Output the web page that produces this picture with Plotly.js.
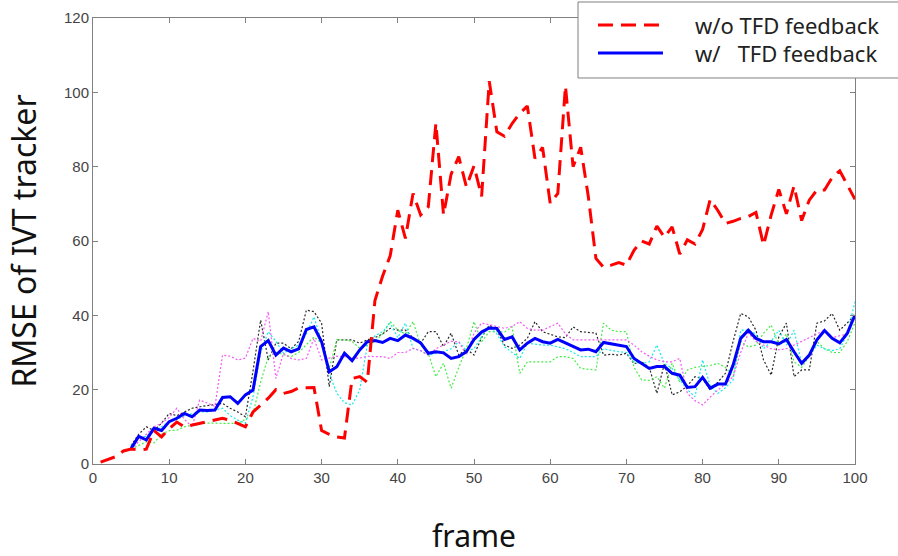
<!DOCTYPE html>
<html>
<head>
<meta charset="utf-8">
<script src="https://cdn.plot.ly/plotly-3.0.1.min.js"></script>
<style>html,body{margin:0;padding:0;background:#fff;}#chart{width:898px;height:556px;}</style>
</head>
<body>
<div id="chart"></div>
<script>
// frame numbers
const framesAll = [1,2,3,4,5,6,7,8,9,10,11,12,13,14,15,16,17,18,19,20,21,22,23,24,25,26,27,28,29,30,31,32,33,34,35,36,37,38,39,40,41,42,43,44,45,46,47,48,49,50,51,52,53,54,55,56,57,58,59,60,61,62,63,64,65,66,67,68,69,70,71,72,73,74,75,76,77,78,79,80,81,82,83,84,85,86,87,88,89,90,91,92,93,94,95,96,97,98,99,100];
const framesSub = [5,6,7,8,9,10,11,12,13,14,15,16,17,18,19,20,21,22,23,24,25,26,27,28,29,30,31,32,33,34,35,36,37,38,39,40,41,42,43,44,45,46,47,48,49,50,51,52,53,54,55,56,57,58,59,60,61,62,63,64,65,66,67,68,69,70,71,72,73,74,75,76,77,78,79,80,81,82,83,84,85,86,87,88,89,90,91,92,93,94,95,96,97,98,99,100];

// w/o TFD feedback (frames 1..100)
const rmseWithout = [
  0.5,1.2,2,3.5,4,3.8,4,9,7.3,9.5,
  11.3,10,10.5,11,11.4,11.8,12.3,11.8,11,10,
  14,15.9,17.7,20,19,19.5,20.5,20.5,20.6,9,
  8,7.3,7,23,23.5,22,44,50.5,56,68.3,
  60.7,72.8,67,69.2,91.7,67,78,82.7,74.6,80.2,
  72,103,89.4,88.2,91.6,94.3,96.3,82.2,85.2,70.1,
  72.8,101.7,80,85.2,72,55.3,52.9,53.5,54.2,53.5,
  57.5,60,59.2,64,61,63.8,56.5,60.3,59.2,63.1,
  71.2,68.2,64.7,65.3,66.1,66.6,67.7,58.9,67,73.9,
  67.3,74.8,65.5,71,73.7,73.7,77.1,78.9,75,71.2
];

// w/ TFD feedback (frames 5..100)
const rmseWith = [
  4.2,7.4,6.5,9.6,9,11.4,12.3,13.6,12.7,14.5,
  14.4,14.5,17.9,18.1,16.3,18.6,19.9,31.6,33.2,29.3,
  31.2,30.2,31,36.2,36.9,32.9,24.8,26.2,29.8,27.8,
  30.7,32.9,33.2,32.7,33.8,33.2,34.7,33.8,32.6,29.8,
  30.2,29.9,28.4,28.9,30.2,33.5,35.5,36.6,36.5,33.5,
  34.2,30.7,32.5,33.8,32.9,32.5,33.5,32.5,31.6,30.7,
  30.9,30.2,32.7,32.3,32,31.6,28.4,27.1,25.7,26.2,
  26.2,24.4,23.9,20.6,20.8,23.3,20.4,21.5,21.5,26.6,
  33.8,36,33.8,32.9,32.9,32.3,33.5,30.2,27.1,29.3,
  33.4,35.9,33.8,32.6,35.2,40.1
];

// individual runs (dotted, frames 5..100)
const runBlack = [
  5,8,10,9,11,13.6,13,14,15,15.4,
  15.8,16,16.3,15,14,12.7,25,38.7,28,32.5,
  32.5,31,33,41.4,41,37.9,20.8,33.4,33.4,33.4,
  32.5,33.4,34,35,36.5,36,36,34,32.5,35.6,
  35.6,31.6,35.2,29.3,31,29.3,34,37.4,36,32,
  31.1,32,33.8,38.3,35.6,35,34.2,34,36.9,35.6,
  35.4,35.2,29.3,29.5,29.3,29.8,27,27.5,26,19,
  27.1,18.6,19.4,21,23.5,23,19.9,22,24.4,33,
  40.5,39.6,36,28,23.9,34.2,37.9,23.5,25.3,25.3,
  37.9,38.5,40.5,36,38,40
];
const runGreen = [
  4,5,6,5.7,8,9,9.1,10,10.5,10.9,
  11,11,11,11,10.9,12,13.6,22,28.9,30,
  29.5,28.9,30,32,34.2,32.5,25.7,33.4,33.4,33,
  31.1,32,33,35,38.3,36,35,38.3,32,29.8,
  23.5,27.1,20.4,26,31,38.3,32.9,35.6,35.6,35.5,
  36.9,24.4,27.5,27.5,27.5,27.5,28.9,28.9,28.4,25.7,
  25.5,25.3,37.9,36,35.6,35.6,26,22.6,22.5,23.5,
  20.4,27.1,22,25.3,26,26.2,26.5,27.1,26,23.5,
  33,31.5,32,35.2,37.4,32,35,27.5,26,29,
  33,31,30,30,33,38
];
const runCyan = [
  5,7,7.5,9,10,11.5,12,13,13.5,14,
  14,14.5,15,13,11.8,11,18.1,30,35.6,33,
  29.8,31,32,35,39.6,33,24.4,19,16.5,15.9,
  19.9,32,34.5,35.6,37.9,34,37.9,31.1,30.5,29.3,
  29.8,30.2,31,32.9,30.5,31,34.2,37,35,31.6,
  30,28.4,32.5,32.2,32,32,31.5,31,30,28.9,
  28.9,28.9,31,30.5,30.2,30,27.5,27,27.5,32,
  27,25.7,22.6,20,18.1,28,21,19,20.5,22.6,
  36,36,35,31,33,36,32,36,27,29,
  32,31,30.5,31,35,43.7
];
const runMagenta = [
  4,6,8,10,11,12.5,15,12,10,17.2,
  16.4,15.5,29.3,29,28,28.5,33.8,33,41,23,
  29.8,28.4,28,28.4,33.8,28,28.5,29,28.9,28.5,
  28.5,29,28.9,28.9,28.4,30,30,31.1,30.5,29.3,
  31,32,33,32.9,29.3,35.2,37.9,37.5,37,36.5,
  37,38.3,36.5,36,36,37,37.9,35,33.4,33.4,
  33.4,33.4,33.4,33.4,33.4,33.4,32,30.2,29,28,
  27.5,27.5,28.4,19,17,15.9,18,19.9,21.5,23.5,
  30,35.2,33,32,31,30.7,31,32,33,34,
  35,36,34,34.5,35,40
];

const xTickVals = [0,10,20,30,40,50,60,70,80,90,100];
const yTickVals = [0,20,40,60,80,100,120];
const labelWithout = 'w/o TFD feedback';
const labelWith = 'w/\u00a0\u00a0\u00a0TFD feedback';

const RED = '#ff0000', BLUE = '#0000ff';
const RED_DASH = '15px,8px';

function dotted(y, color) {
  return {x: framesSub, y: y, type: 'scatter', mode: 'lines', showlegend: false,
          hoverinfo: 'skip', line: {color: color, width: 1.2, dash: '2px,2px'}};
}

const traces = [
  dotted(runBlack, 'rgb(40,40,40)'),
  dotted(runGreen, 'rgb(70,235,70)'),
  dotted(runCyan, 'rgb(20,235,235)'),
  dotted(runMagenta, 'rgb(245,90,245)'),
  {x: framesSub, y: rmseWith, type: 'scatter', mode: 'lines', name: labelWith, showlegend: false,
   line: {color: BLUE, width: 3}},
  {x: framesAll, y: rmseWithout, type: 'scatter', mode: 'lines', name: labelWithout, showlegend: false,
   line: {color: RED, width: 3, dash: RED_DASH}}
];

const axisCommon = {
  showline: true, linecolor: '#808080', linewidth: 1, mirror: 'ticks',
  ticks: 'inside', ticklen: 5, tickcolor: '#808080', showgrid: false, zeroline: false,
  tickfont: {family: 'Liberation Sans, Arial, sans-serif', size: 15, color: '#444'}
};

// legend box (paper coordinates), drawn over the top frame as in the original
const legendFont = {family: 'Noto Sans, sans-serif', size: 22, color: '#222'};
const legendRows = [
  {label: labelWithout, color: RED, dash: RED_DASH, y: 0.9843},
  {label: labelWith, color: BLUE, dash: 'solid', y: 0.9215}
];
const shapes = [{
  type: 'rect', xref: 'paper', yref: 'paper', layer: 'above',
  x0: 0.6365, x1: 1.08, y0: 0.8655, y1: 1.0359,
  fillcolor: '#ffffff', line: {color: '#7f7f7f', width: 1}
}];
const annotations = [];
legendRows.forEach(r => {
  shapes.push({type: 'line', xref: 'paper', yref: 'paper', layer: 'above',
    x0: 0.6627, x1: 0.7480, y0: r.y, y1: r.y, line: {color: r.color, width: 3, dash: r.dash}});
  annotations.push({xref: 'paper', yref: 'paper', x: 0.7874, y: r.y, xanchor: 'left', yanchor: 'middle',
    text: r.label, showarrow: false, font: legendFont});
});

const layout = {
  width: 898, height: 556,
  margin: {l: 93, r: 43, t: 18, b: 92},
  paper_bgcolor: '#ffffff', plot_bgcolor: '#ffffff',
  xaxis: Object.assign({}, axisCommon, {
    range: [0, 100], tickmode: 'array', tickvals: xTickVals,
    title: {text: 'frame', font: {family: 'Noto Sans, sans-serif', size: 30, color: '#111'}, standoff: 48}
  }),
  yaxis: Object.assign({}, axisCommon, {
    range: [0, 120], tickmode: 'array', tickvals: yTickVals,
    title: {text: 'RMSE of IVT tracker', font: {family: 'Noto Sans, sans-serif', size: 32, color: '#111'}, standoff: 17}
  }),
  showlegend: false,
  shapes: shapes,
  annotations: annotations
};

Plotly.newPlot('chart', traces, layout, {displayModeBar: false, staticPlot: true});
</script>
</body>
</html>
